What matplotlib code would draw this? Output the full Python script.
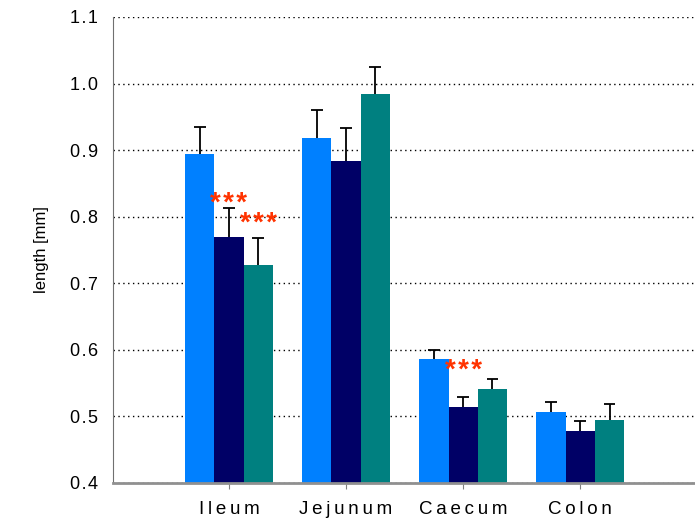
import numpy as np
import matplotlib.pyplot as plt

plt.rcParams.update({
    "font.family": ["Liberation Sans", "DejaVu Sans"],
    "font.size": 11,
})

# ================= DATA =================
segments = ["Ileum", "Jejunum", "Caecum", "Colon"]
group_a = [0.894, 0.918, 0.586, 0.507]
group_b = [0.769, 0.883, 0.514, 0.478]
group_c = [0.727, 0.984, 0.541, 0.495]
err_a = [0.040, 0.042, 0.014, 0.015]
err_b = [0.044, 0.050, 0.015, 0.015]
err_c = [0.041, 0.041, 0.015, 0.024]

# significance marks: (segment index, bar index 0..2, baseline y)
stars = [(0, 1, 0.808), (0, 2, 0.779), (2, 1, 0.557)]

colors = ["#0080FF", "#000066", "#008080"]

HAIR = "\u200a"
THIN = "\u2009"

# ================= PLOT =================
fig = plt.figure(figsize=(6.95, 5.18), dpi=100)
ax = fig.add_axes([0.1626, 0.0676, 0.8374, 0.8996])

x = np.arange(len(segments))
w = 0.25
cap = 0.05
for i, (vals, errs) in enumerate(zip([group_a, group_b, group_c],
                                     [err_a, err_b, err_c])):
    pos = x + (i - 1) * w
    vals = np.array(vals)
    tops = vals + np.array(errs)
    ax.bar(pos, vals - 0.4, bottom=0.4, width=w, color=colors[i], zorder=2)
    # upper error bars only
    ax.vlines(pos, vals, tops, color="black", linewidth=1.3, zorder=3)
    ax.hlines(tops, pos - cap, pos + cap, color="black", linewidth=1.3,
              zorder=3)

for seg, bar, y in stars:
    ax.text(x[seg] + (bar - 1) * w, y, HAIR.join("***"), color="#FF3300",
            fontsize=20, fontweight="bold", ha="center", va="baseline",
            zorder=4)

yticks = np.arange(0.4, 1.11, 0.1)
ax.set_ylim(0.4, 1.1)
ax.set_xlim(-0.99, 3.98)
ax.set_yticks(yticks)
ax.set_yticklabels([HAIR.join(f"{v:.1f}") for v in yticks], fontsize=13)
ax.set_xticks(x)
ax.set_xticklabels([THIN.join(s) for s in segments], fontsize=13.5)
ax.tick_params(axis="y", length=0, pad=11)
ax.tick_params(axis="x", length=4, color="grey", pad=9)

ax.grid(axis="y", linestyle=(0, (1, 2.5)), color="black", linewidth=1.0,
        zorder=0)
ax.set_axisbelow(True)

for side in ["top", "right"]:
    ax.spines[side].set_visible(False)
ax.spines["left"].set_color("#707070")
ax.spines["bottom"].set_color("#909090")
ax.spines["bottom"].set_linewidth(2)

ax.set_ylabel("length [mm]", fontsize=12, labelpad=15)

plt.savefig("out.png", dpi=100)
plt.close()
